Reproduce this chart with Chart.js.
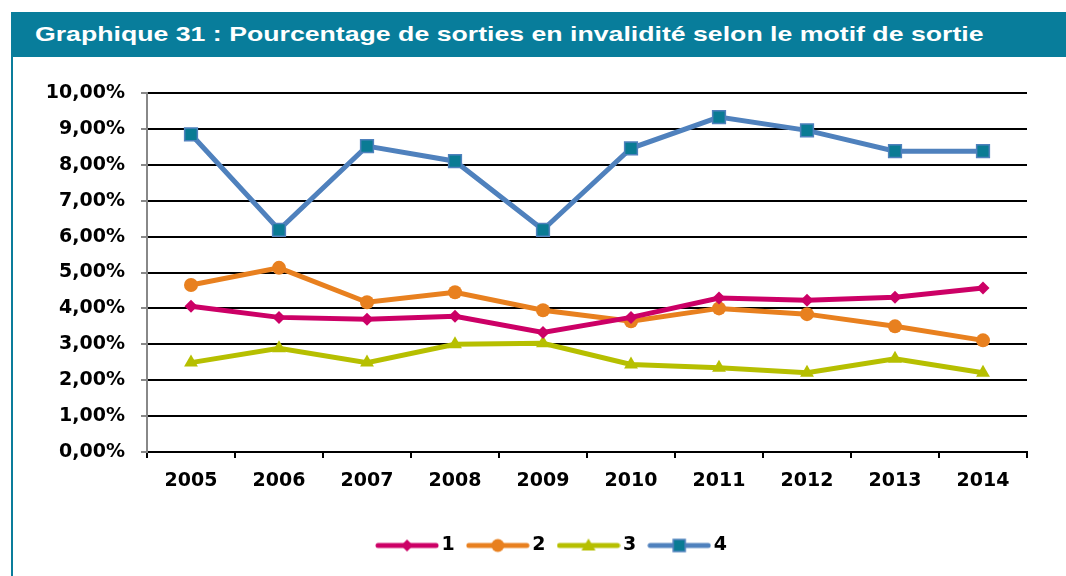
<!DOCTYPE html>
<html>
<head>
<meta charset="utf-8">
<script src="https://cdn.jsdelivr.net/npm/chart.js@4"></script>
<style>
  html, body { margin: 0; padding: 0; background: #fff; }
  #wrap { position: relative; width: 1066px; height: 576px; overflow: hidden; }
  #border { position: absolute; left: 11px; top: 12px; width: 2px; height: 564px; background: #0a7d9b; }
  #title {
    position: absolute; left: 12px; top: 12px; width: 1054px; height: 45px;
    background: #087d9b; z-index: 2;
  }
  #title span {
    position: absolute; left: 23px; top: 0; white-space: nowrap;
    color: #fff; font: bold 21px "Liberation Sans", Arial, sans-serif; line-height: 44px;
    transform: scaleX(1.27); transform-origin: left center;
  }
  canvas { position: absolute; left: 0; top: 0; }
</style>
</head>
<body>
<div id="wrap">
  <div id="border"></div>
  <div id="title"><span>Graphique 31 : Pourcentage de sorties en invalidité selon le motif de sortie</span></div>
  <canvas id="myChart" width="1066" height="576"></canvas>
</div>
<script>
// annees
var years = ['2005', '2006', '2007', '2008', '2009', '2010', '2011', '2012', '2013', '2014'];
var seriesNames = ['1', '2', '3', '4'];

// valeurs en %
var motif1 = [4.06, 3.75, 3.70, 3.78, 3.33, 3.75, 4.29, 4.23, 4.31, 4.57];
var motif2 = [4.65, 5.13, 4.17, 4.45, 3.95, 3.64, 4.00, 3.84, 3.50, 3.11];
var motif3 = [2.49, 2.89, 2.49, 3.00, 3.03, 2.44, 2.35, 2.21, 2.60, 2.21];
var motif4 = [8.85, 6.19, 8.52, 8.10, 6.19, 8.46, 9.33, 8.96, 8.38, 8.38];

var lineColors = ['#cc0066', '#e8801f', '#b6bf00', '#4f81bd'];
var pointFills = ['#cc0066', '#e8801f', '#b6bf00', '#0a7b94'];
var pointStyles = ['rectRot', 'circle', 'triangle', 'rect'];
var pointSizes = [6.5, 7, 8, 9];

var FONT = '"DejaVu Sans", sans-serif';

// petite image ligne + marqueur pour la legende
function legendIcon(i) {
  var c = document.createElement('canvas');
  c.width = 64; c.height = 20;
  var ctx = c.getContext('2d');
  ctx.strokeStyle = lineColors[i];
  ctx.lineWidth = 5;
  ctx.lineCap = 'round';
  ctx.beginPath();
  ctx.moveTo(3, 10); ctx.lineTo(61, 10);
  ctx.stroke();
  ctx.fillStyle = pointFills[i];
  ctx.strokeStyle = lineColors[i];
  ctx.lineWidth = 1.5;
  ctx.beginPath();
  if (pointStyles[i] == 'rectRot') {
    ctx.moveTo(32, 4); ctx.lineTo(38, 10); ctx.lineTo(32, 16); ctx.lineTo(26, 10);
    ctx.closePath(); ctx.fill();
  } else if (pointStyles[i] == 'circle') {
    ctx.arc(32, 10, 6.5, 0, Math.PI * 2); ctx.fill();
  } else if (pointStyles[i] == 'triangle') {
    ctx.moveTo(32, 3); ctx.lineTo(39, 15); ctx.lineTo(25, 15);
    ctx.closePath(); ctx.fill();
  } else {
    ctx.rect(26, 4, 12, 12); ctx.fill(); ctx.stroke();
  }
  return c;
}

// la legende est un peu decalee vers la droite dans l'original
var shiftLegend = {
  id: 'shiftLegend',
  afterLayout: function (chart) {
    chart.legend.left += 62;
  }
};

var allData = [motif1, motif2, motif3, motif4];
var datasets = allData.map(function (d, i) {
  return {
    label: seriesNames[i],
    data: d,
    borderColor: lineColors[i],
    backgroundColor: pointFills[i],
    pointBackgroundColor: pointFills[i],
    pointBorderColor: lineColors[i],
    pointBorderWidth: i == 3 ? 1.5 : 0,
    pointStyle: pointStyles[i],
    pointRadius: pointSizes[i],
    borderWidth: 5,
    tension: 0
  };
});

var ctx = document.getElementById('myChart');
var myChart = new Chart(ctx, {
  type: 'line',
  data: { labels: years, datasets: datasets },
  plugins: [shiftLegend],
  options: {
    responsive: false,
    animation: false,
    layout: { padding: { top: 93, left: 20, right: 39, bottom: 11 } },
    plugins: {
      tooltip: { enabled: false },
      legend: {
        position: 'bottom',
        labels: {
          usePointStyle: true,
          pointStyleWidth: 50,
          padding: 18,
          color: '#000',
          font: { family: FONT, size: 19, weight: 'bold' },
          generateLabels: function (chart) {
            return chart.data.datasets.map(function (ds, i) {
              return {
                text: ds.label,
                pointStyle: legendIcon(i),
                fillStyle: ds.backgroundColor,
                strokeStyle: ds.borderColor,
                lineWidth: 0,
                fontColor: '#000',
                datasetIndex: i
              };
            });
          }
        }
      }
    },
    scales: {
      x: {
        offset: true,
        afterFit: function (scale) { scale.height = 66; },
        grid: { offset: true, drawOnChartArea: false, drawTicks: true, tickLength: 6, tickColor: '#000', lineWidth: 2 },
        border: { color: '#000', width: 2 },
        ticks: { color: '#000', padding: 12, font: { family: FONT, size: 19, weight: 'bold' } }
      },
      y: {
        min: 0,
        max: 10,
        afterFit: function (scale) { scale.width = 127; },
        grid: { color: '#000', lineWidth: 2, tickLength: 6, tickColor: '#888' },
        border: { color: '#888', width: 2 },
        ticks: {
          stepSize: 1,
          padding: 16,
          color: '#000',
          font: { family: FONT, size: 19, weight: 'bold' },
          callback: function (v) { return v.toFixed(2).replace('.', ',') + '%'; }
        }
      }
    }
  }
});
</script>
</body>
</html>
